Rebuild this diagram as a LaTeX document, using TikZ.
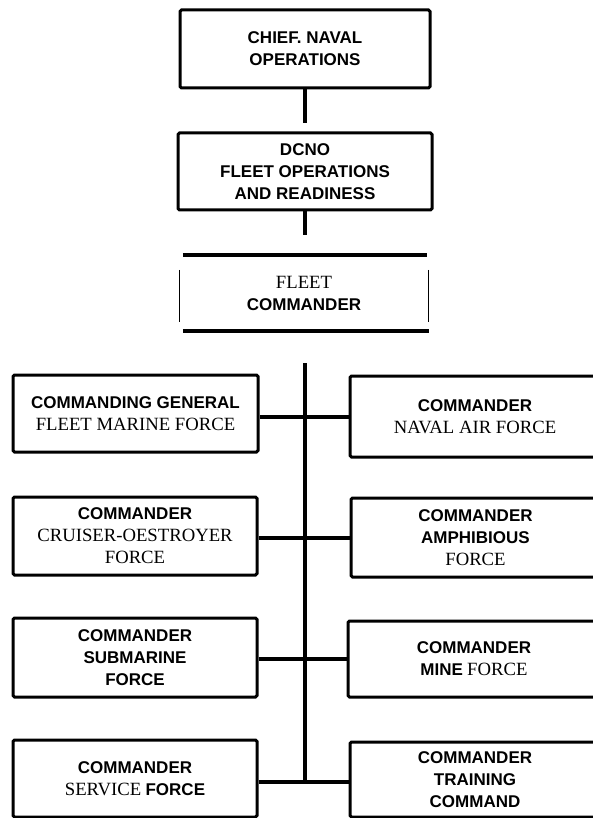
\documentclass[tikz,border=0pt]{standalone}
\usepackage{fontspec}
\setmainfont{Liberation Serif}
\newfontfamily\orgsans{Liberation Sans}
% heavy sans and plain serif label fragments
\newcommand\sa[1]{{\orgsans\bfseries\fontsize{17}{22}\selectfont #1}}
\newcommand\se[1]{{\fontsize{18.7}{22}\selectfont #1}}
\tikzset{
  orgbox/.style={draw, line width=3, rounded corners=1.5, inner sep=0pt,
    align=center, font=\fontsize{17}{22}\selectfont},
  plainbox/.style={inner sep=0pt, align=center, font=\fontsize{17}{22}\selectfont},
  link/.style={line width=4.5, line cap=butt},
  rule/.style={line width=4},
  sideline/.style={line width=0.9},
}
\begin{document}
\begin{tikzpicture}[x=1pt, y=-1pt]
\fill[white] (0,0) rectangle (592,818);
\useasboundingbox (0,0) rectangle (592,818);

% top of the chain
\node[orgbox, minimum width=250, minimum height=78] (cno) at (305,49)
  {\sa{CHIEF. NAVAL}\\\sa{OPERATIONS}};
\node[orgbox, minimum width=254, minimum height=77] (dcno) at (305,171.5)
  {\sa{DCNO}\\\sa{FLEET OPERATIONS}\\\sa{AND READINESS}};
\node[plainbox, minimum width=248, minimum height=76] (fc) at (304,293)
  {\se{FLEET}\\\sa{COMMANDER}};

% fleet commander frame: heavy rules above and below, light short sides
\draw[rule] ([xshift=3]fc.north west) -- ([xshift=-1]fc.north east);
\draw[rule] ([xshift=3]fc.south west) -- ([xshift=1]fc.south east);
\draw[sideline] ([yshift=-15]fc.north west) -- ([yshift=9]fc.south west);
\draw[sideline] ([yshift=-15]fc.north east) -- ([yshift=9]fc.south east);

% type commands, left column
\node[orgbox, minimum width=245, minimum height=77] (fmf) at (135.5,413.5)
  {\sa{COMMANDING GENERAL}\\\se{FLEET MARINE FORCE}};
\node[orgbox, minimum width=244, minimum height=78] (crudes) at (135,536)
  {\sa{COMMANDER}\\\se{CRUISER-OESTROYER}\\\se{FORCE}};
\node[orgbox, minimum width=244, minimum height=79] (sub) at (135,657.5)
  {\sa{COMMANDER}\\\sa{SUBMARINE}\\\sa{FORCE}};
\node[orgbox, minimum width=244, minimum height=77] (serv) at (135,778.5)
  {\sa{COMMANDER}\\\se{SERVICE} \sa{FORCE}};

% type commands, right column
\node[orgbox, minimum width=250, minimum height=81] (air) at (475,416.5)
  {\sa{COMMANDER}\\\se{NAVAL AIR FORCE}};
\node[orgbox, minimum width=249, minimum height=79] (amph) at (475.5,537.5)
  {\sa{COMMANDER}\\\sa{AMPHIBIOUS}\\\se{FORCE}};
\node[orgbox, minimum width=252, minimum height=76] (mine) at (474,659)
  {\sa{COMMANDER}\\\sa{MINE} \se{FORCE}};
\node[orgbox, minimum width=250, minimum height=75] (train) at (475,779.5)
  {\sa{COMMANDER}\\\sa{TRAINING}\\\sa{COMMAND}};

% chain of command
\coordinate (c1) at (305,123);
\coordinate (c2) at (305,235);
\coordinate (top) at (305,363);
\coordinate (bot) at (305,784);
\draw[link] (cno.south) -- (c1);
\draw[link] (dcno.south) -- (c2);
\draw[link] (top) -- (bot);

% branches off the spine
\coordinate (j1) at (305,417);
\coordinate (j2) at (305,538);
\coordinate (j3) at (305,659);
\coordinate (j4) at (305,782);
\draw[link] (fmf.east |- j1) -- (air.west |- j1);
\draw[link] (crudes.east |- j2) -- (amph.west |- j2);
\draw[link] (sub.east |- j3) -- (mine.west |- j3);
\draw[link] (serv.east |- j4) -- (train.west |- j4);
\end{tikzpicture}
\end{document}
